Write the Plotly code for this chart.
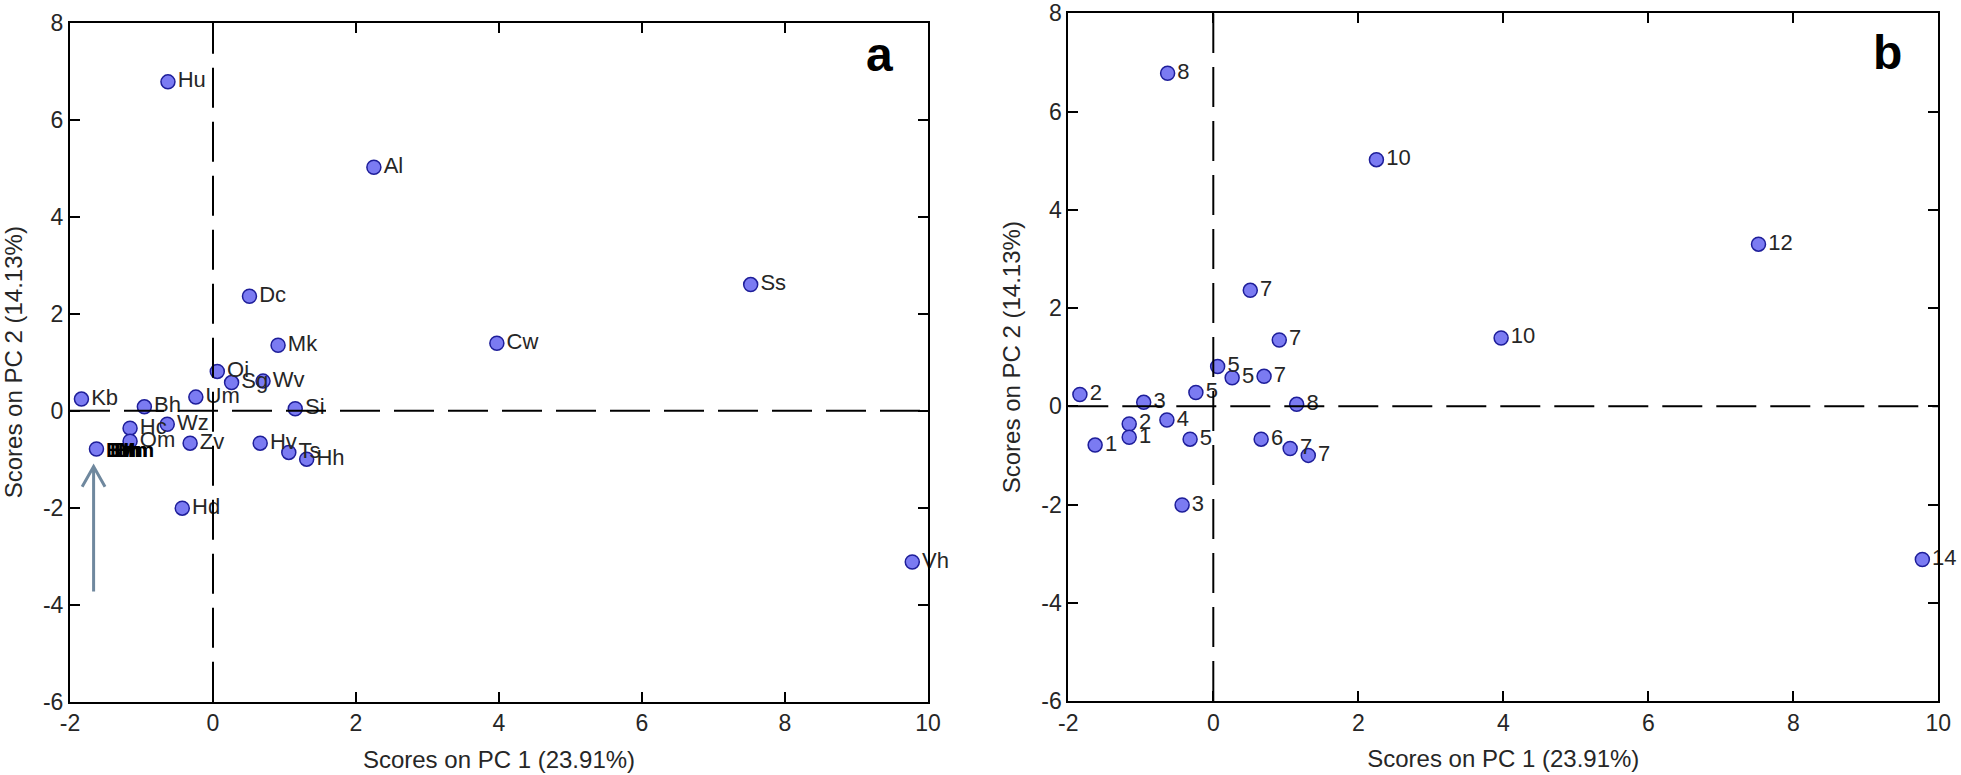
import plotly.graph_objects as go

# ---------------- data (scores on PC1 / PC2) ----------------
names_a = ["Hu", "Al", "Ss", "Cw", "Vh", "Dc", "Mk", "Oi", "Sg", "Wv", "Kb", "Um",
           "Bh", "Si", "Hc", "Om", "Wz", "Zv", "Hv", "Ts", "Hh", "Hd", "Bm"]
labels_b = ["8", "10", "12", "10", "14", "7", "7", "5", "5", "7", "2", "5",
            "3", "8", "2", "1", "4", "5", "6", "7", "7", "3", "1"]
pc1 = [-0.63, 2.25, 7.52, 3.97, 9.78, 0.51, 0.91, 0.06, 0.26, 0.70, -1.84, -0.24,
       -0.96, 1.15, -1.16, -1.16, -0.64, -0.32, 0.66, 1.06, 1.31, -0.43, -1.63]
pc2_a = [6.78, 5.02, 2.60, 1.39, -3.12, 2.36, 1.35, 0.81, 0.58, 0.61, 0.24, 0.28,
         0.08, 0.04, -0.36, -0.63, -0.28, -0.67, -0.67, -0.86, -1.00, -2.01, -0.79]
# panel b (point "12" sits higher than "Ss" in panel a)
pc2_b = [6.78, 5.02, 3.30, 1.39, -3.12, 2.36, 1.35, 0.81, 0.58, 0.61, 0.24, 0.28,
         0.08, 0.04, -0.36, -0.63, -0.28, -0.67, -0.67, -0.86, -1.00, -2.01, -0.79]
# labels overlapping at the arrowed cluster point in panel a (unreadable blob)
cluster_labels = ["Bm", "Em", "Hm", "Mm"]

x_ticks = [-2, 0, 2, 4, 6, 8, 10]
y_ticks = [-6, -4, -2, 0, 2, 4, 6, 8]
x_title = "Scores on PC 1 (23.91%)"
y_title = "Scores on PC 2 (14.13%)"

# arrow in panel a
ARROW_X, ARROW_TAIL_Y, ARROW_TIP_Y = -1.67, -3.73, -1.15

W, H = 1961, 775
FONT = "Liberation Sans, Arial, sans-serif"
TXT = "#262626"

fig = go.Figure()

marker = dict(size=14, color="#7b7bf2", line=dict(color="#1e1e9a", width=1.5))
txt_font = dict(family=FONT, size=22, color=TXT)

fig.add_trace(go.Scatter(
    x=pc1, y=pc2_a, mode="markers+text",
    text=names_a[:-1] + [""], textposition="middle right",
    textfont=txt_font, marker=marker, xaxis="x", yaxis="y",
    showlegend=False, cliponaxis=False))
fig.add_trace(go.Scatter(
    x=pc1, y=pc2_b, mode="markers+text",
    text=labels_b, textposition="middle right",
    textfont=txt_font, marker=marker, xaxis="x2", yaxis="y2",
    showlegend=False, cliponaxis=False))

def axis_style(domain, rng, ticks, title, standoff):
    return dict(domain=domain, range=rng, tickvals=ticks, ticktext=[str(t) for t in ticks],
                ticks="inside", ticklen=10, tickwidth=1.5, tickcolor="black",
                showline=True, linecolor="black", linewidth=2, mirror="ticks",
                showgrid=False, zeroline=False,
                tickfont=dict(family=FONT, size=23, color=TXT),
                title=dict(text=title, font=dict(family=FONT, size=24, color=TXT),
                           standoff=standoff),
                automargin=False)

ax_a = [70 / W, 928 / W]
ay_a = [1 - 701.7 / H, 1 - 22.7 / H]
ax_b = [1068.3 / W, 1938.3 / W]
ay_b = [1 - 701 / H, 1 - 13.3 / H]

fig.update_layout(
    width=W, height=H, margin=dict(l=0, r=0, t=0, b=0),
    paper_bgcolor="white", plot_bgcolor="white",
    xaxis=axis_style(ax_a, [-2, 10], x_ticks, x_title, 16),
    yaxis=axis_style(ay_a, [-6, 8], y_ticks, y_title, 14),
    xaxis2=axis_style(ax_b, [-2, 10], x_ticks, x_title, 16),
    yaxis2=axis_style(ay_b, [-6, 8], y_ticks, y_title, 14),
)
fig.layout.xaxis2.anchor = "y2"
fig.layout.yaxis2.anchor = "x2"

dash = "40px,14px"
shapes = []
for xr, yr in (("x", "y"), ("x2", "y2")):
    shapes.append(dict(type="line", xref=xr, yref=yr, x0=0, x1=0, y0=-6, y1=8,
                       line=dict(color="black", width=2, dash=dash)))
    shapes.append(dict(type="line", xref=xr, yref=yr, x0=-2, x1=10, y0=0, y1=0,
                       line=dict(color="black", width=2, dash=dash)))
# arrow (panel a)
hw, hl = 0.16, 0.42
path = (f"M {ARROW_X},{ARROW_TAIL_Y} L {ARROW_X},{ARROW_TIP_Y} "
        f"M {ARROW_X - hw},{ARROW_TIP_Y - hl} L {ARROW_X},{ARROW_TIP_Y} L {ARROW_X + hw},{ARROW_TIP_Y - hl}")
shapes.append(dict(type="path", xref="x", yref="y", path=path,
                   line=dict(color="#6f889e", width=3)))
fig.update_layout(shapes=shapes)

annotations = []
for i, lab in enumerate(cluster_labels):
    annotations.append(dict(x=pc1[-1], y=pc2_a[-1], xref="x", yref="y", text=f"<b>{lab}</b>",
                            showarrow=False, xanchor="left", yanchor="middle",
                            xshift=8 + 4 * i, font=dict(family=FONT, size=21, color="black")))
annotations.append(dict(x=879 / W, y=1 - 55 / H, xref="paper", yref="paper", text="<b>a</b>",
                        showarrow=False, xanchor="center", yanchor="middle",
                        font=dict(family=FONT, size=48, color="black")))
annotations.append(dict(x=1887 / W, y=1 - 52 / H, xref="paper", yref="paper", text="<b>b</b>",
                        showarrow=False, xanchor="center", yanchor="middle",
                        font=dict(family=FONT, size=48, color="black")))
fig.update_layout(annotations=annotations)

fig.write_html("out.html", config={"displayModeBar": False},
               post_script="document.body.style.margin='0px';")
